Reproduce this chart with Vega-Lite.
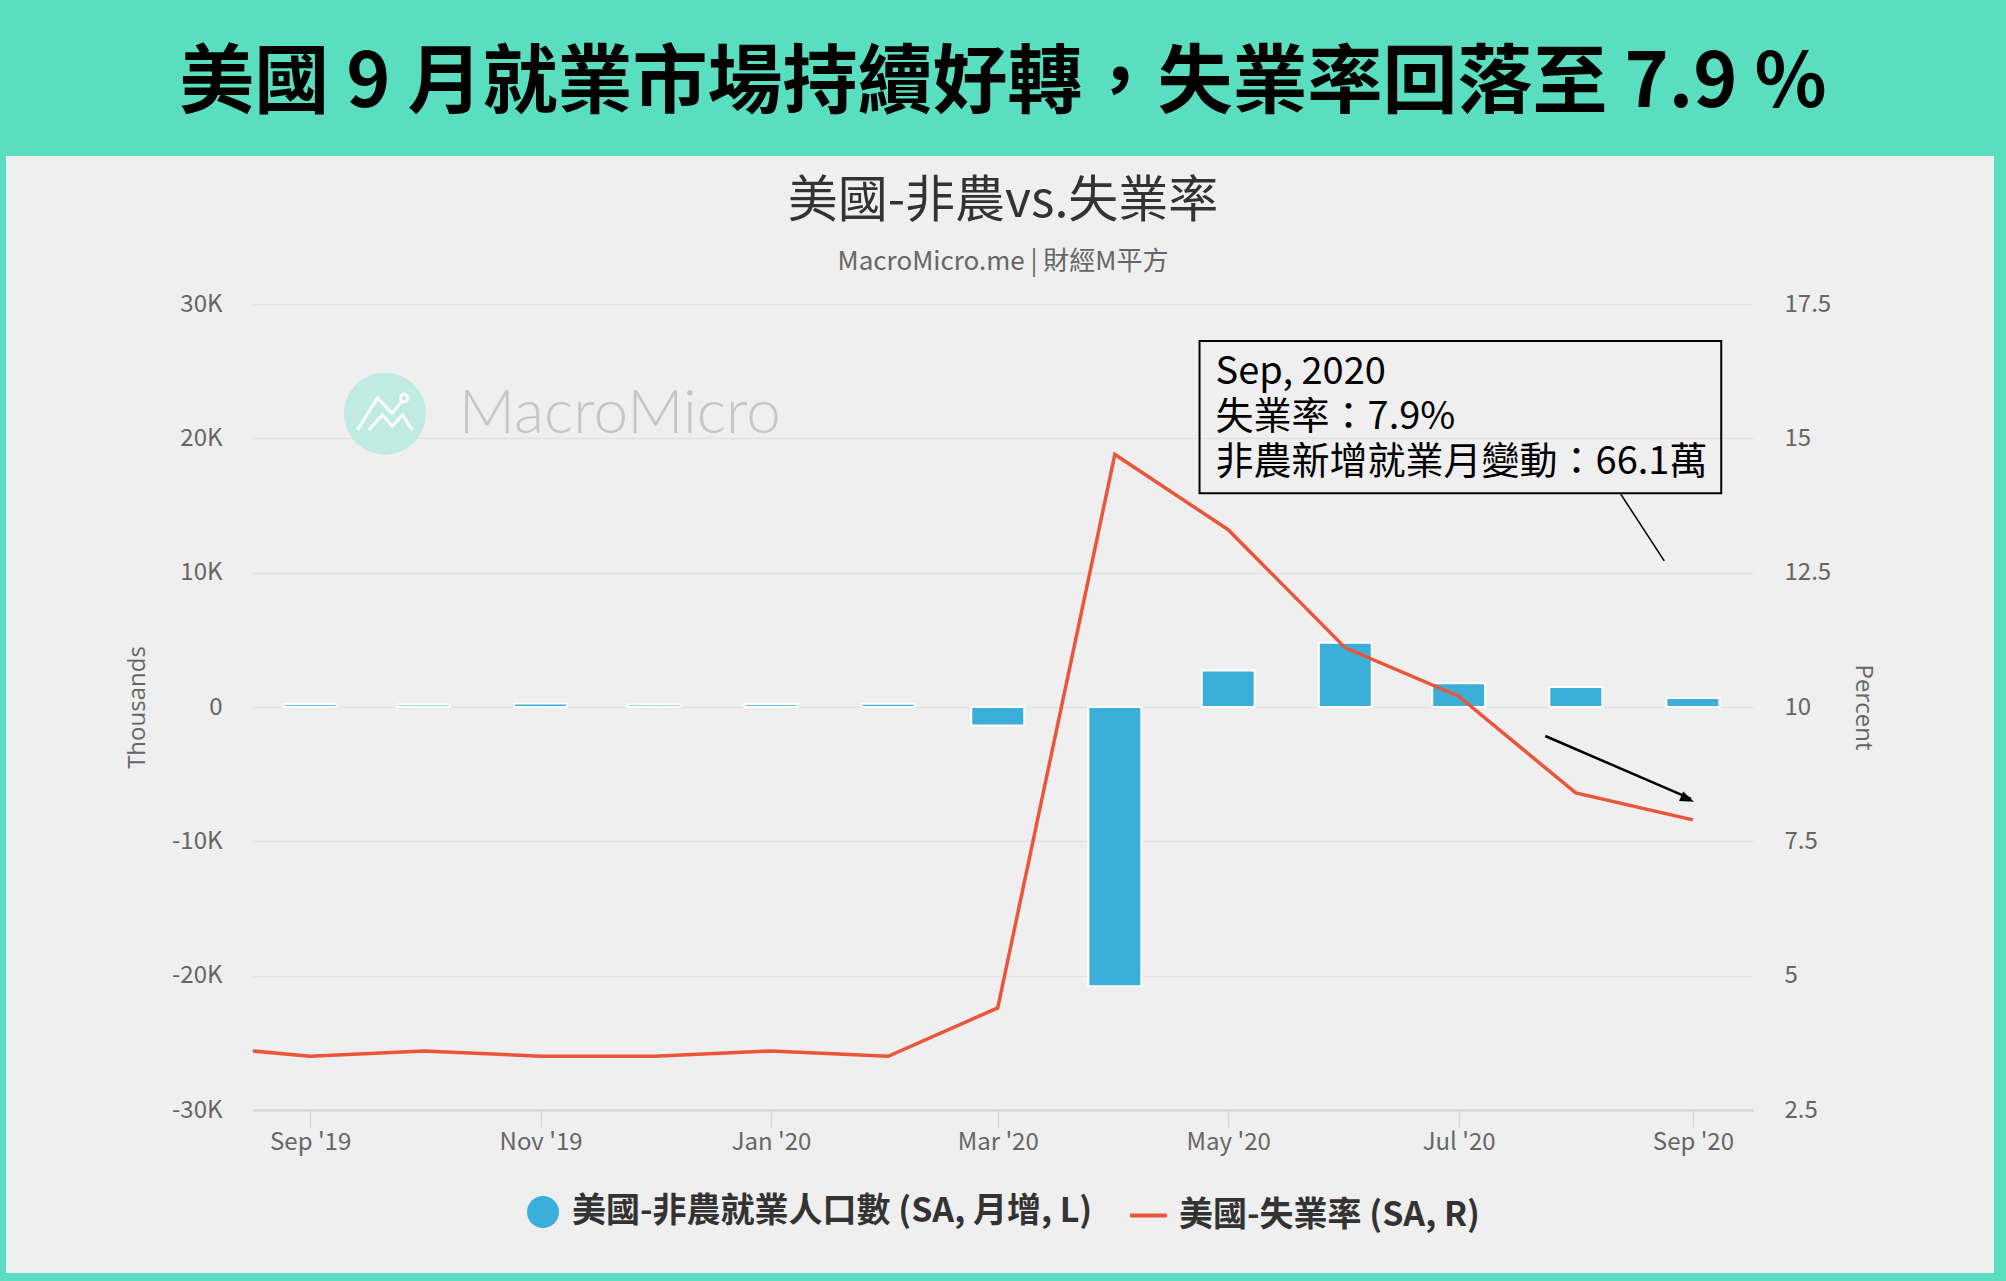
{
  "$schema": "https://vega.github.io/schema/vega-lite/v6.json",
  "background": "#efefef",
  "padding": 0,
  "spacing": 0,
  "config": {
    "view": {"stroke": null},
    "font": "Noto Sans CJK TC",
    "axis": {"labelFont": "Noto Sans CJK TC", "labelFontSize": 24, "labelColor": "#666666", "titleFont": "Open Sans", "titleFontSize": 24, "titleFontWeight": "normal", "titleColor": "#666666"}
  },
  "datasets": {
    "main": [
      {"date": "2019-08-01", "nfp": 207, "rate": 3.7},
      {"date": "2019-09-01", "nfp": 208, "rate": 3.5},
      {"date": "2019-10-01", "nfp": 185, "rate": 3.6},
      {"date": "2019-11-01", "nfp": 261, "rate": 3.5},
      {"date": "2019-12-01", "nfp": 184, "rate": 3.5},
      {"date": "2020-01-01", "nfp": 214, "rate": 3.6},
      {"date": "2020-02-01", "nfp": 251, "rate": 3.5},
      {"date": "2020-03-01", "nfp": -1373, "rate": 4.4},
      {"date": "2020-04-01", "nfp": -20787, "rate": 14.7},
      {"date": "2020-05-01", "nfp": 2725, "rate": 13.3},
      {"date": "2020-06-01", "nfp": 4781, "rate": 11.1},
      {"date": "2020-07-01", "nfp": 1761, "rate": 10.2},
      {"date": "2020-08-01", "nfp": 1489, "rate": 8.4},
      {"date": "2020-09-01", "nfp": 661, "rate": 7.9}
    ]
  },
  "vconcat": [
    {
      "width": 2006,
      "height": 156,
      "view": {"fill": "#59dfc0", "stroke": null},
      "data": {"values": [{"headline": "美國 9 月就業市場持續好轉，失業率回落至 7.9 %"}]},
      "mark": {"type": "text", "font": "Noto Sans CJK TC", "fontSize": 75, "fontWeight": "bold", "color": "#000000", "align": "center", "baseline": "middle", "dy": 6},
      "encoding": {"text": {"field": "headline"}}
    },
    {
      "spacing": 119,
      "hconcat": [
        {
          "width": 6,
          "height": 1117,
          "view": {"fill": "#59dfc0", "stroke": null},
          "data": {"values": []},
          "mark": "text",
          "encoding": {}
        },
        {
          "spacing": 0,
          "vconcat": [
            {
              "width": 1500,
              "height": 136,
              "layer": [
                {
                  "data": {"values": [{"t": "美國-非農vs.失業率"}]},
                  "mark": {"type": "text", "font": "Noto Sans CJK TC", "fontSize": 50, "color": "#333333", "align": "center", "baseline": "middle", "dy": -22},
                  "encoding": {"text": {"field": "t"}}
                },
                {
                  "data": {"values": [{"t": "MacroMicro.me | 財經M平方"}]},
                  "mark": {"type": "text", "font": "Noto Sans CJK TC", "fontSize": 26, "color": "#666666", "align": "center", "baseline": "middle", "dy": 38},
                  "encoding": {"text": {"field": "t"}}
                }
              ]
            },
            {
              "width": 1500,
              "height": 806,
              "encoding": {
                "x": {
                  "field": "date",
                  "type": "temporal",
                  "scale": {
                    "type": "utc",
                    "domain": [
                      {"year": 2019, "month": 8, "date": 18, "hours": 5, "utc": true},
                      {"year": 2020, "month": 9, "date": 15, "hours": 14, "utc": true}
                    ]
                  },
                  "axis": {
                    "values": [
                      {"year": 2019, "month": 9, "date": 1, "utc": true},
                      {"year": 2019, "month": 11, "date": 1, "utc": true},
                      {"year": 2020, "month": 1, "date": 1, "utc": true},
                      {"year": 2020, "month": 3, "date": 1, "utc": true},
                      {"year": 2020, "month": 5, "date": 1, "utc": true},
                      {"year": 2020, "month": 7, "date": 1, "utc": true},
                      {"year": 2020, "month": 9, "date": 1, "utc": true}
                    ],
                    "labelExpr": "utcFormat(datum.value, \"%b '%y\")",
                    "title": null,
                    "grid": false,
                    "domain": true,
                    "domainColor": "#d4d4d4",
                    "domainWidth": 2,
                    "ticks": true,
                    "tickColor": "#d4d4d4",
                    "tickWidth": 1.5,
                    "tickSize": 17,
                    "labelPadding": 3,
                    "labelOverlap": false,
                    "labelFlush": false,
                    "labelBound": false
                  }
                }
              },
              "layer": [
                {
                  "layer": [
                    {
                      "data": {"name": "main"},
                      "mark": {"type": "bar", "width": 53, "stroke": "#ffffff", "strokeWidth": 2, "clip": true},
                      "encoding": {
                        "y": {
                          "field": "nfp",
                          "type": "quantitative",
                          "scale": {"domain": [-30000, 30000], "nice": false, "zero": false},
                          "axis": {
                            "orient": "left",
                            "values": [-30000, -20000, -10000, 0, 10000, 20000, 30000],
                            "labelExpr": "datum.value === 0 ? '0' : (datum.value / 1000) + 'K'",
                            "grid": true,
                            "gridColor": "#e2e2e2",
                            "gridWidth": 1.5,
                            "domain": false,
                            "ticks": false,
                            "tickSize": 0,
                            "labelPadding": 31,
                            "title": "Thousands",
                            "titlePadding": 22
                          }
                        },
                        "color": {
                          "datum": "美國-非農就業人口數 (SA, 月增, L)",
                          "type": "nominal",
                          "scale": {"domain": ["美國-非農就業人口數 (SA, 月增, L)"], "range": ["#3bafda"]},
                          "legend": {
                            "orient": "none", "legendX": 526, "legendY": 1195, "direction": "horizontal", "title": null,
                            "labelFont": "Noto Sans CJK TC", "labelFontSize": 34, "labelFontWeight": "bold", "labelColor": "#333333", "labelLimit": 900, "labelOffset": 12,
                            "symbolType": "circle", "symbolSize": 1024, "symbolStrokeWidth": 0, "symbolStrokeColor": "transparent"
                          }
                        }
                      }
                    },
                    {
                      "data": {"values": [{"date": "2019-09-20T19:00:00Z", "k": 21840}]},
                      "mark": {"type": "point", "shape": "circle", "filled": true, "size": 6724, "color": "#c0ebe3", "opacity": 1},
                      "encoding": {
                        "y": {"field": "k", "type": "quantitative", "scale": {"domain": [-30000, 30000], "nice": false, "zero": false}}
                      }
                    },
                    {
                      "data": {"values": [{"date": "2019-09-20T19:00:00Z", "k": 21840}]},
                      "mark": {"type": "point", "shape": "M-0.67,0.4L-0.18,-0.38L0.18,-0.01L0.41,-0.3M-0.39,0.4L-0.06,0.03L0.18,0.31L0.43,0.03L0.67,0.4M0.56,-0.38A0.09,0.09,0,1,1,0.38,-0.38A0.09,0.09,0,1,1,0.56,-0.38", "filled": false, "stroke": "#ffffff", "strokeWidth": 3, "size": 6724, "opacity": 1},
                      "encoding": {
                        "y": {"field": "k", "type": "quantitative", "scale": {"domain": [-30000, 30000], "nice": false, "zero": false}}
                      }
                    },
                    {
                      "data": {"values": [{"date": "2019-10-10T09:00:00Z", "k": 20430, "label": "MacroMicro"}]},
                      "mark": {"type": "text", "font": "Lato", "fontWeight": 300, "fontSize": 62, "letterSpacing": 2.5, "color": "#c6c6c6", "align": "left", "baseline": "alphabetic"},
                      "encoding": {
                        "y": {"field": "k", "type": "quantitative", "scale": {"domain": [-30000, 30000], "nice": false, "zero": false}},
                        "text": {"field": "label"}
                      }
                    }
                  ]
                },
                {
                  "layer": [
                    {
                      "data": {"name": "main"},
                      "mark": {"type": "line", "strokeWidth": 3.5, "clip": true},
                      "encoding": {
                        "y": {
                          "field": "rate",
                          "type": "quantitative",
                          "scale": {"domain": [2.5, 17.5], "nice": false, "zero": false},
                          "axis": {
                            "orient": "right",
                            "values": [2.5, 5, 7.5, 10, 12.5, 15, 17.5],
                            "labelExpr": "datum.value + ''",
                            "grid": false,
                            "domain": false,
                            "ticks": false,
                            "tickSize": 0,
                            "labelPadding": 31,
                            "title": "Percent",
                            "titlePadding": 20
                          }
                        },
                        "stroke": {
                          "datum": "美國-失業率 (SA, R)",
                          "type": "nominal",
                          "scale": {"domain": ["美國-失業率 (SA, R)"], "range": ["#eb5539"]},
                          "legend": {
                            "orient": "none", "legendX": 1128, "legendY": 1195, "direction": "horizontal", "title": null,
                            "labelFont": "Noto Sans CJK TC", "labelFontSize": 34, "labelFontWeight": "bold", "labelColor": "#333333", "labelLimit": 900, "labelOffset": 10,
                            "symbolType": "stroke", "symbolSize": 1350, "symbolStrokeWidth": 4
                          }
                        }
                      }
                    },
                    {
                      "data": {"values": [{"date": "2020-04-23T10:00:00Z", "date2": "2020-09-08T12:00:00Z", "top": 16.81, "bottom": 13.98}]},
                      "mark": {"type": "rect", "fill": "transparent", "stroke": "#000000", "strokeWidth": 2},
                      "encoding": {
                        "x2": {"field": "date2"},
                        "y": {"field": "top", "type": "quantitative", "scale": {"domain": [2.5, 17.5], "nice": false, "zero": false}},
                        "y2": {"field": "bottom"}
                      }
                    },
                    {
                      "data": {"values": [{"date": "2020-04-27T16:00:00Z", "rate": 16.02, "label": "Sep, 2020\n失業率：7.9%\n非農新增就業月變動：66.1萬"}]},
                      "mark": {"type": "text", "font": "Noto Sans CJK TC", "fontSize": 38, "color": "#000000", "align": "left", "baseline": "alphabetic", "lineBreak": "\n", "lineHeight": 45},
                      "encoding": {
                        "y": {"field": "rate", "type": "quantitative", "scale": {"domain": [2.5, 17.5], "nice": false, "zero": false}},
                        "text": {"field": "label"}
                      }
                    },
                    {
                      "data": {"values": [
                        {"date": "2020-08-12T22:00:00Z", "date2": "2020-08-24T10:00:00Z", "from": 13.96, "to": 12.72}
                      ]},
                      "mark": {"type": "rule", "stroke": "#000000", "strokeWidth": 1.5},
                      "encoding": {
                        "x2": {"field": "date2"},
                        "y": {"field": "from", "type": "quantitative", "scale": {"domain": [2.5, 17.5], "nice": false, "zero": false}},
                        "y2": {"field": "to"}
                      }
                    },
                    {
                      "data": {"values": [
                        {"date": "2020-07-23T22:00:00Z", "date2": "2020-08-31T12:00:00Z", "from": 9.46, "to": 8.29}
                      ]},
                      "mark": {"type": "rule", "stroke": "#000000", "strokeWidth": 2.5},
                      "encoding": {
                        "x2": {"field": "date2"},
                        "y": {"field": "from", "type": "quantitative", "scale": {"domain": [2.5, 17.5], "nice": false, "zero": false}},
                        "y2": {"field": "to"}
                      }
                    },
                    {
                      "data": {"values": [{"date": "2020-08-30T14:00:00Z", "rate": 8.287}]},
                      "mark": {"type": "point", "shape": "M1,0L-1,-0.75L-1,0.75Z", "angle": 23.6, "filled": true, "color": "#000000", "size": 196, "opacity": 1},
                      "encoding": {
                        "y": {"field": "rate", "type": "quantitative", "scale": {"domain": [2.5, 17.5], "nice": false, "zero": false}}
                      }
                    }
                  ]
                }
              ],
              "resolve": {"scale": {"y": "independent"}}
            }
          ]
        },
        {
          "width": 14,
          "height": 1117,
          "view": {"fill": "#59dfc0", "stroke": null},
          "data": {"values": []},
          "mark": "text",
          "encoding": {}
        }
      ]
    },
    {
      "width": 2006,
      "height": 8,
      "view": {"fill": "#59dfc0", "stroke": null},
      "data": {"values": []},
      "mark": "text",
      "encoding": {}
    }
  ]
}
